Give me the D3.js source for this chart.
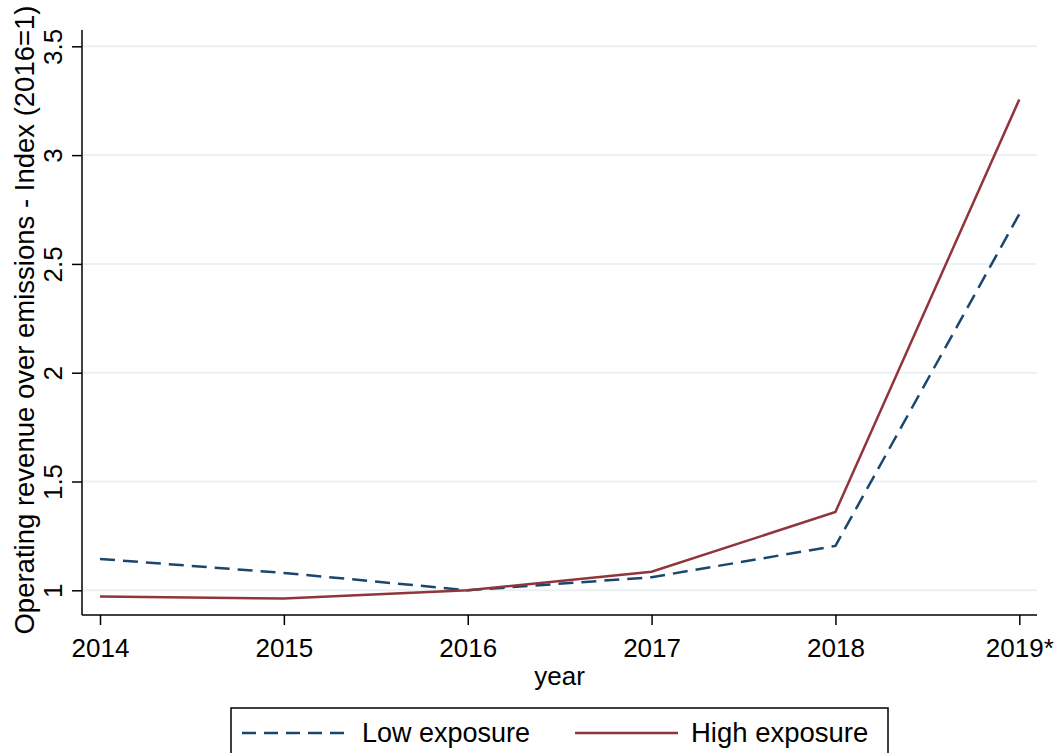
<!DOCTYPE html>
<html>
  <head>
    <meta charset="utf-8">
    <style>
      body { margin: 0; background: #fff; }
      svg text { font-family: "Liberation Sans", Arial, sans-serif; fill: #000; }
    </style>
    <script type="text/javascript" src="https://d3js.org/d3.v7.min.js"></script>
  </head>
  <body>
    <svg></svg>
    <script>
    // data
    var years = [2014, 2015, 2016, 2017, 2018, 2019];
    var yearLabels = ["2014", "2015", "2016", "2017", "2018", "2019*"];
    var lowExposure = [1.144, 1.08, 1.0, 1.06, 1.204, 2.729];
    var highExposure = [0.971, 0.962, 1.0, 1.085, 1.36, 3.256];
    var yTicks = [1, 1.5, 2, 2.5, 3, 3.5];

    var width = 1059;
    var height = 753;
    var fontSize = 26;

    var svg = d3.select("svg")
        .attr("width", width)
        .attr("height", height);

    var plotLeft = 82, plotRight = 1037, plotTop = 30, plotBottom = 615;

    var x = d3.scaleLinear()
        .domain([2014, 2019])
        .range([100, 1019.3]);

    var y = d3.scaleLinear()
        .domain([0.8865, 3.575])
        .range([plotBottom, plotTop]);

    // gridlines
    svg.append("g")
        .selectAll("line")
        .data(yTicks)
        .enter().append("line")
          .attr("x1", plotLeft)
          .attr("x2", plotRight)
          .attr("y1", function(d) { return y(d); })
          .attr("y2", function(d) { return y(d); })
          .attr("stroke", "#eaf2f3")
          .attr("stroke-width", 2);

    // y axis
    var yAxis = svg.append("g")
        .attr("transform", "translate(" + plotLeft + ",0)")
        .call(d3.axisLeft(y).tickValues(yTicks).tickSize(10)
            .tickFormat(d3.format("")));
    yAxis.select(".domain").remove();
    yAxis.selectAll(".tick line").attr("stroke", "#000").attr("stroke-width", 1.5);
    yAxis.selectAll(".tick text")
        .attr("font-size", fontSize)
        .attr("text-anchor", "middle")
        .attr("x", null)
        .attr("dy", null)
        .attr("transform", "translate(-20,0) rotate(-90)");
    svg.append("line")
        .attr("x1", plotLeft).attr("x2", plotLeft)
        .attr("y1", plotTop).attr("y2", plotBottom)
        .attr("stroke", "#000").attr("stroke-width", 1.5);

    // x axis
    var xAxis = svg.append("g")
        .attr("transform", "translate(0," + plotBottom + ")")
        .call(d3.axisBottom(x).tickValues(years).tickSize(10).tickPadding(14)
            .tickFormat(function(d, i) { return yearLabels[i]; }));
    xAxis.select(".domain").remove();
    xAxis.selectAll(".tick line").attr("stroke", "#000").attr("stroke-width", 1.5);
    xAxis.selectAll(".tick text").attr("font-size", fontSize);
    svg.append("line")
        .attr("x1", plotLeft).attr("x2", plotRight)
        .attr("y1", plotBottom).attr("y2", plotBottom)
        .attr("stroke", "#000").attr("stroke-width", 1.5);

    // axis titles
    svg.append("text")
        .attr("x", (x(2014) + x(2019)) / 2)
        .attr("y", 685)
        .attr("text-anchor", "middle")
        .attr("font-size", fontSize)
        .text("year");

    svg.append("text")
        .attr("transform", "translate(34,320) rotate(-90)")
        .attr("text-anchor", "middle")
        .attr("font-size", 27.5)
        .text("Operating revenue over emissions - Index (2016=1)");

    // lines
    var line = d3.line()
        .x(function(d, i) { return x(years[i]); })
        .y(function(d) { return y(d); });

    svg.append("path")
        .datum(lowExposure)
        .attr("fill", "none")
        .attr("stroke", "#1a476f")
        .attr("stroke-width", 2.5)
        .attr("stroke-dasharray", "15,8")
        .attr("d", line);

    svg.append("path")
        .datum(highExposure)
        .attr("fill", "none")
        .attr("stroke", "#90353b")
        .attr("stroke-width", 2.5)
        .attr("d", line);

    // legend
    var legend = svg.append("g");
    legend.append("rect")
        .attr("x", 231).attr("y", 708)
        .attr("width", 657).attr("height", 60)
        .attr("fill", "#fff")
        .attr("stroke", "#000")
        .attr("stroke-width", 1.5);
    legend.append("line")
        .attr("x1", 242).attr("x2", 345)
        .attr("y1", 733).attr("y2", 733)
        .attr("stroke", "#1a476f").attr("stroke-width", 2.5)
        .attr("stroke-dasharray", "14,8");
    legend.append("text")
        .attr("x", 362).attr("y", 742)
        .attr("font-size", 27)
        .text("Low exposure");
    legend.append("line")
        .attr("x1", 575).attr("x2", 678)
        .attr("y1", 733).attr("y2", 733)
        .attr("stroke", "#90353b").attr("stroke-width", 2.5);
    legend.append("text")
        .attr("x", 691).attr("y", 742)
        .attr("font-size", 27.5)
        .text("High exposure");
    </script>
  </body>
</html>
